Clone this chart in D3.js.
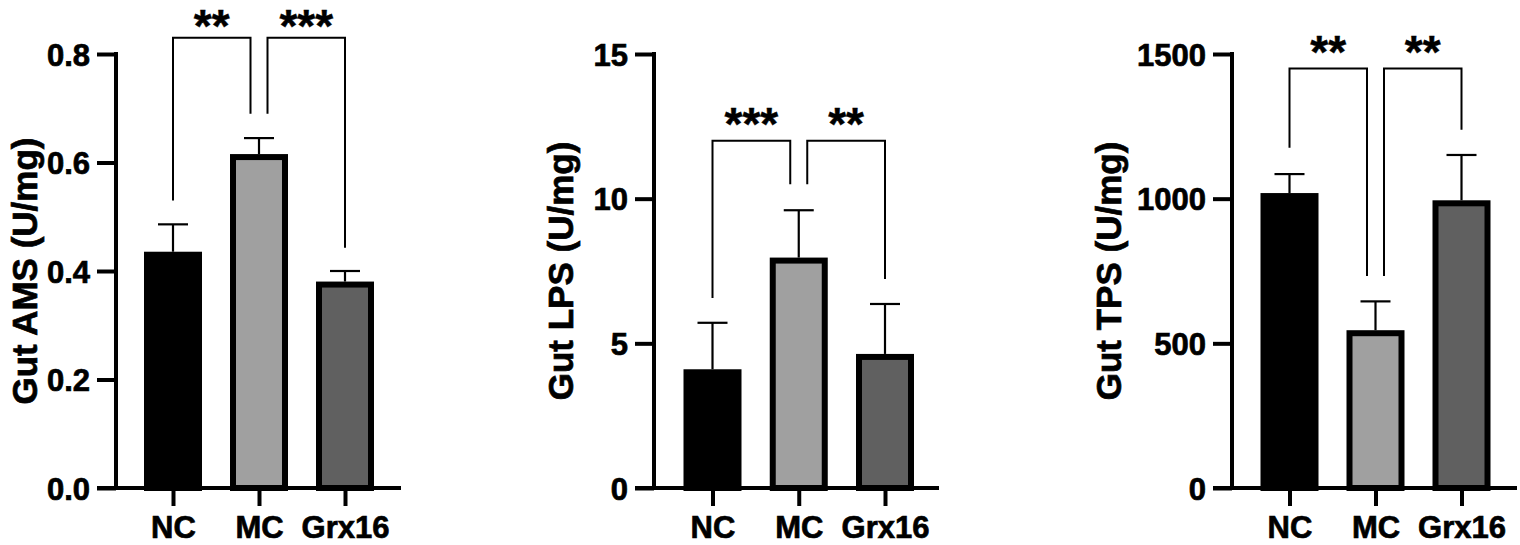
<!DOCTYPE html>
<html>
<head>
<meta charset="utf-8">
<script src="https://cdn.jsdelivr.net/npm/d3@7"></script>
<style>
  html, body { margin: 0; padding: 0; background: #fff; }
  svg { display: block; }
  text { font-family: "Liberation Sans", Arial, sans-serif; font-weight: bold; fill: #000; }
</style>
</head>
<body>
<svg id="chart" width="1520" height="545"></svg>
<script>
// ---- data ----
const categories = ["NC", "MC", "Grx16"];
const fills = ["#000000", "#a0a0a0", "#606060"];

const amsMean = [0.43, 0.61, 0.375];
const amsErr  = [0.056, 0.035, 0.025];
const amsTicks = [0, 0.2, 0.4, 0.6, 0.8];
const amsTickLabels = ["0.0", "0.2", "0.4", "0.6", "0.8"];

const lpsMean = [4.0, 7.86, 4.53];
const lpsErr  = [1.71, 1.74, 1.83];
const lpsTicks = [0, 5, 10, 15];
const lpsTickLabels = ["0", "5", "10", "15"];

const tpsMean = [1009, 535, 984];
const tpsErr  = [76, 110, 167];
const tpsTicks = [0, 500, 1000, 1500];
const tpsTickLabels = ["0", "500", "1000", "1500"];

// significance: [fromIndex, toIndex, topLevel, fromLegBottom, toLegBottom, label]
const amsSig = [[0, 1, 0.83, 0.53, 0.69, "**"], [1, 2, 0.83, 0.69, 0.443, "***"]];
const lpsSig = [[0, 1, 12.0, 6.57, 10.5, "***"], [1, 2, 12.0, 10.5, 7.22, "**"]];
const tpsSig = [[0, 1, 1450, 1176, 733, "**"], [1, 2, 1450, 733, 1238, "**"]];

const titles = ["Gut AMS (U/mg)", "Gut LPS (U/mg)", "Gut TPS (U/mg)"];

// ---- layout ----
const panels = [
  { mean: amsMean, err: amsErr, ticks: amsTicks, labels: amsTickLabels, sig: amsSig, title: titles[0],
    max: 0.8, axisX: 116, c0: 173, c2: 345, titleX: 37 },
  { mean: lpsMean, err: lpsErr, ticks: lpsTicks, labels: lpsTickLabels, sig: lpsSig, title: titles[1],
    max: 15, axisX: 654, c0: 712.5, c2: 885, titleX: 573 },
  { mean: tpsMean, err: tpsErr, ticks: tpsTicks, labels: tpsTickLabels, sig: tpsSig, title: titles[2],
    max: 1500, axisX: 1232, c0: 1289.5, c2: 1461.5, titleX: 1121 }
];

const svg = d3.select("#chart");
const yBase = 488, yTop = 54;
const barStroke = 6;
const bw = 58;
const fontStack = '"Liberation Sans", Arial, sans-serif';

function styleText(sel, size) {
  sel.style("font-size", size + "px").style("font-family", fontStack).style("font-weight", "bold")
    .attr("fill", "#000").attr("stroke", "#000").attr("stroke-width", 0.7);
}

panels.forEach(p => {
  const g = svg.append("g");
  const y = d3.scaleLinear().domain([0, p.max]).range([yBase, yTop]);
  const x = d3.scalePoint().domain(categories).range([p.c0, p.c2]);

  // bars
  g.selectAll("rect.bar").data(categories).join("rect")
    .attr("class", "bar")
    .attr("x", c => x(c) - bw / 2 + barStroke / 2)
    .attr("width", bw - barStroke)
    .attr("y", (c, i) => y(p.mean[i]))
    .attr("height", (c, i) => yBase - y(p.mean[i]))
    .attr("fill", (c, i) => fills[i])
    .attr("stroke", "#000")
    .attr("stroke-width", barStroke);

  // error bars (upper only)
  const capW = 30;
  categories.forEach((c, i) => {
    const top = y(p.mean[i] + p.err[i]);
    g.append("line").attr("x1", x(c)).attr("x2", x(c))
      .attr("y1", y(p.mean[i]) - barStroke / 2).attr("y2", top)
      .attr("stroke", "#000").attr("stroke-width", 2.2);
    g.append("line").attr("x1", x(c) - capW / 2).attr("x2", x(c) + capW / 2)
      .attr("y1", top).attr("y2", top)
      .attr("stroke", "#000").attr("stroke-width", 2.2);
  });

  // y axis
  const yAxis = d3.axisLeft(y).tickValues(p.ticks).tickFormat((d, i) => p.labels[i])
    .tickSize(19).tickPadding(7).tickSizeOuter(0);
  const ya = g.append("g").attr("transform", `translate(${p.axisX},0)`).call(yAxis);
  ya.select(".domain").attr("stroke", "#000").attr("stroke-width", 4)
    .attr("d", `M0,${yTop - 2}V${yBase}`);
  ya.selectAll(".tick line").attr("stroke", "#000").attr("stroke-width", 4);
  ya.selectAll(".tick text").call(styleText, 31).attr("dy", "0.36em");

  // x axis
  const xAxis = d3.axisBottom(x).tickSize(18).tickPadding(9.5).tickSizeOuter(0);
  const xa = g.append("g").attr("transform", `translate(0,${yBase})`).call(xAxis);
  xa.select(".domain").attr("stroke", "#000").attr("stroke-width", 4)
    .attr("d", `M${p.axisX - 19},0H${p.axisX + 285}`);
  xa.selectAll(".tick line").attr("stroke", "#000").attr("stroke-width", 4);
  xa.selectAll(".tick text").call(styleText, 31);

  // title
  g.append("text")
    .attr("transform", `translate(${p.titleX},${(yBase + yTop) / 2}) rotate(-90)`)
    .attr("text-anchor", "middle")
    .call(styleText, 35)
    .text(p.title);

  // significance brackets
  const off = 8.5;
  const starSize = 46;
  p.sig.forEach(s => {
    const [a, b, top, la, lb, lab] = s;
    const x1 = x(categories[a]) + (a === 1 ? off : 0);
    const x2 = x(categories[b]) - (b === 1 ? off : 0);
    g.append("path")
      .attr("d", `M${x1},${y(la)}V${y(top)}H${x2}V${y(lb)}`)
      .attr("fill", "none").attr("stroke", "#000").attr("stroke-width", 2);
    const base = Math.max(y(top) - 0.5, starSize * 0.905 + 0.5);
    g.append("text")
      .attr("x", (x1 + x2) / 2).attr("y", base)
      .attr("text-anchor", "middle")
      .call(styleText, starSize)
      .attr("stroke-width", 0.4)
      .text(lab);
  });
});
</script>
</body>
</html>
